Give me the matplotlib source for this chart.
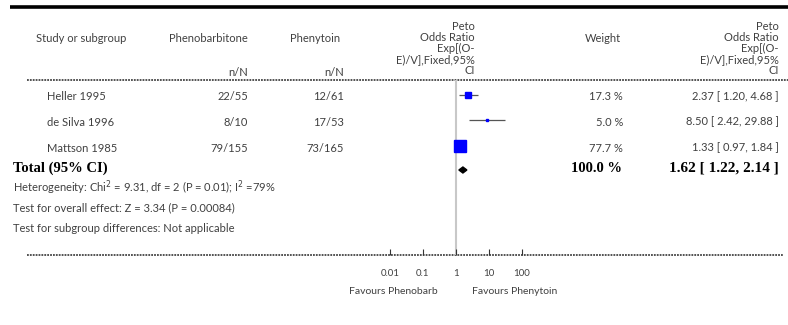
import matplotlib
matplotlib.use('Agg')
import matplotlib.pyplot as plt
import numpy as np

# ---- data ----
studies = ['Heller 1995', 'de Silva 1996', 'Mattson 1985']
pheno = ['22/55', '8/10', '79/155']
pheny = ['12/61', '17/53', '73/165']
weights = [17.3, 5.0, 77.7]
odds = [2.37, 8.50, 1.33]
ci_low = [1.20, 2.42, 0.97]
ci_high = [4.68, 29.88, 1.84]
total_or = 1.62
total_low = 1.22
total_high = 2.14
total_weight = '100.0 %'
het_text = ['Heterogeneity: Chi$^2$ = 9.31, df = 2 (P = 0.01); I$^2$ =79%',
            'Test for overall effect: Z = 3.34 (P = 0.00084)',
            'Test for subgroup differences: Not applicable']
tick_vals = [0.01, 0.1, 1, 10, 100]
tick_labels = ['0.01', '0.1', '1', '10', '100']

W, H = 788, 325
fig = plt.figure(figsize=(W/100, H/100), dpi=100)
plt.rcParams['font.family'] = ['Lato', 'DejaVu Sans']

# overlay axes in pixel coords for the table part
ov = fig.add_axes([0, 0, 1, 1])
ov.set_xlim(0, W)
ov.set_ylim(H, 0)
ov.axis('off')

txt = '#404040'
fs = 8
serif = ['Liberation Serif', 'DejaVu Serif']

# top rule and dotted rules
ov.plot([10, W], [7, 7], color='black', lw=2.6, solid_capstyle='butt')
ov.plot([27, W], [80, 80], color='#444444', lw=1.3, linestyle=(0, (1, 0.6)))
ov.plot([27, 783], [255, 255], color='#444444', lw=1.3, linestyle=(0, (1, 0.6)))

# headers
ov.text(36, 39, 'Study or subgroup', fontsize=fs, color=txt, ha='left', va='center')
ov.text(248, 39, 'Phenobarbitone', fontsize=fs, color=txt, ha='right', va='center')
ov.text(340, 39, 'Phenytoin', fontsize=fs, color=txt, ha='right', va='center')
ov.text(248, 72, 'n/N', fontsize=fs, color=txt, ha='right', va='center')
ov.text(344, 72, 'n/N', fontsize=fs, color=txt, ha='right', va='center')
peto_hdr = 'Peto\nOdds Ratio\nExp[(O-\nE)/V],Fixed,95%\nCI'
ov.text(475, 76, peto_hdr, fontsize=fs, color=txt, ha='right', va='bottom',
        multialignment='right', linespacing=1.0)
ov.text(779, 76, peto_hdr, fontsize=fs, color=txt, ha='right', va='bottom',
        multialignment='right', linespacing=1.0)
ov.text(603, 39, 'Weight', fontsize=fs, color=txt, ha='center', va='center')

rows_y = [97, 122, 148]
for i in range(len(studies)):
    y = rows_y[i]
    ov.text(47, y, studies[i], fontsize=fs, color=txt, ha='left', va='center')
    ov.text(248, y, pheno[i], fontsize=fs, color=txt, ha='right', va='center')
    ov.text(344, y, pheny[i], fontsize=fs, color=txt, ha='right', va='center')
    ov.text(623, y, '%.1f %%' % weights[i], fontsize=fs, color=txt, ha='right', va='center')
    ov.text(779, y, '%.2f [ %.2f, %.2f ]' % (odds[i], ci_low[i], ci_high[i]),
            fontsize=fs, color=txt, ha='right', va='center')

ov.text(13, 168, 'Total (95% CI)', fontsize=10.5, fontweight='bold', family=serif,
        color='black', ha='left', va='center')
ov.text(622, 168, total_weight, fontsize=10.5, fontweight='bold', family=serif,
        color='black', ha='right', va='center')
ov.text(779, 168, '%.2f [ %.2f, %.2f ]' % (total_or, total_low, total_high), fontsize=11,
        fontweight='bold', family=serif, color='black', ha='right', va='center')

for j, line in enumerate(het_text):
    ov.text(13, 188 + 20*j, line, fontsize=fs, color=txt, ha='left', va='center')

ov.text(438, 291, 'Favours Phenobarb', fontsize=fs - 0.5, color=txt, ha='right', va='center')
ov.text(472, 291, 'Favours Phenytoin', fontsize=fs - 0.5, color=txt, ha='left', va='center')

# forest axes: log scale, 0.01..100 over pixels 390..522, rows 80..255
ax = fig.add_axes([390/W, (H-255)/H, 132/W, 175/H])
ax.patch.set_alpha(0)
ax.set_xscale('log')
ax.set_xlim(0.01, 100)
ax.set_ylim(255, 80)
for s in ax.spines.values():
    s.set_visible(False)
ax.axvline(1, color='#c8c8c8', lw=1.5, zorder=1)

for i in range(len(studies)):
    y = rows_y[i] - 2
    ax.hlines(y, ci_low[i], ci_high[i], color='#555555', lw=0.9, zorder=2)
    ms = 8.0 * np.sqrt(weights[i] / max(weights))
    ax.plot(odds[i], y, 's', color='#0000ff', ms=ms, mec='#0000ff', zorder=3, clip_on=False)

yt = 170
ax.fill([total_low, total_or, total_high, total_or], [yt, yt - 3, yt, yt + 3],
        color='black', zorder=3)

ax.set_xticks(tick_vals)
ax.set_xticklabels(tick_labels)
ax.minorticks_off()
ax.set_yticks([])
ax.tick_params(axis='x', direction='in', length=4, width=0.8, color='#333333',
               labelsize=fs - 1, labelcolor=txt, pad=10)

fig.savefig('out.png', dpi=100)
